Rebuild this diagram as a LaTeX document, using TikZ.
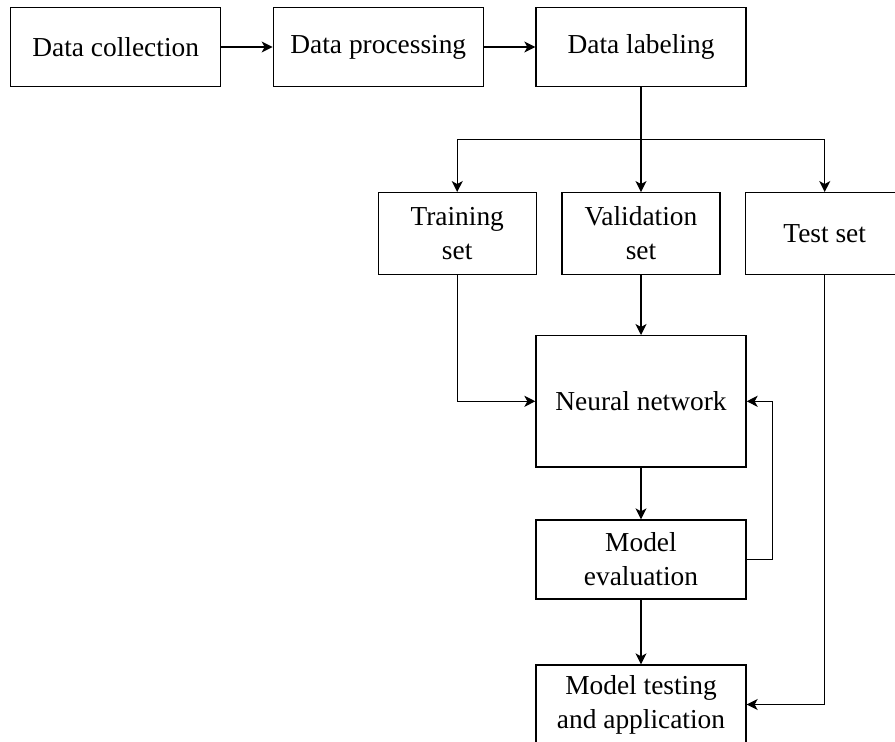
\documentclass[tikz,border=0pt]{standalone}
\usepackage{fontspec}
\setmainfont{Liberation Serif}
\usetikzlibrary{arrows.meta}
\begin{document}
\begin{tikzpicture}[x=1pt,y=-1pt,
  box/.style={draw,line width=1.3pt,minimum width=210pt,minimum height=79.4pt,
    inner sep=2pt,align=center,font=\fontsize{27.4}{34}\selectfont},
  setbox/.style={box,minimum width=158pt,minimum height=81.6pt},
  conn/.style={line width=1.3pt,-{Stealth[length=11pt,width=11pt,inset=3pt]}},
  plain/.style={line width=1.3pt}]
\useasboundingbox (0,0) rectangle (895,742);
\node[box] (dc) at (115.7,47) {Data collection};
\node[box] (dp) at (378.3,47) {Data processing};
\node[box] (dl) at (641,47) {Data labeling};
\node[setbox] (train) at (457.2,233.5) {Training\\set};
\node[setbox] (val) at (641,233.5) {Validation\\set};
\node[setbox] (test) at (824.7,233.5) {Test set};
\node[box,minimum height=131.3pt] (nn) at (641,401.3) {Neural network};
\node[box,minimum height=79pt] (me) at (641,559.5) {Model\\evaluation};
\node[box,minimum height=79pt] (mt) at (641,704.5) {Model testing\\and application};
\coordinate (split) at (641,139.5);
\coordinate (fb) at (772.5,559.5);
\draw[conn] (dc) -- (dp);
\draw[conn] (dp) -- (dl);
\draw[conn] (dl.south) -- (val.north);
\draw[conn] (split) -| (train.north);
\draw[conn] (split) -| (test.north);
\draw[conn] (val.south) -- (nn.north);
\draw[conn] (train.south) |- (nn.west);
\draw[conn] (nn.south) -- (me.north);
\draw[conn] (me.east) -- (fb) |- (nn.east);
\draw[conn] (me.south) -- (mt.north);
\draw[conn] (test.south) |- (mt.east);
\end{tikzpicture}
\end{document}
